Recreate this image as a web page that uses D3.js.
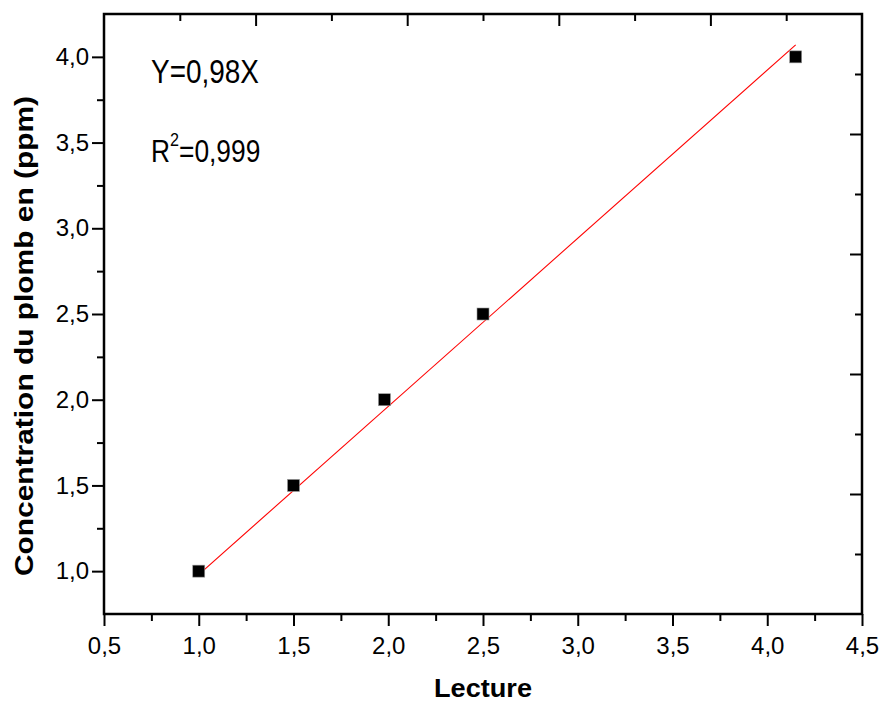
<!DOCTYPE html>
<html>
<head>
<meta charset="utf-8">
<script src="https://cdn.jsdelivr.net/npm/d3@7"></script>
<style>
  html, body { margin: 0; padding: 0; background: #fff; }
  svg { display: block; }
  text { font-family: "Liberation Sans", Arial, Helvetica, sans-serif; fill: #000; }
</style>
</head>
<body>
<svg id="chart" width="881" height="704"></svg>
<script>
// ---- data ----
const lectureX = [1.0, 1.5, 1.98, 2.5, 4.15];
const concentrationY = [1.0, 1.5, 2.0, 2.5, 4.0];
const fitX = [1.0, 4.15];
const fitY = [0.98, 4.07];
const xMajorTicks = [0.5, 1.0, 1.5, 2.0, 2.5, 3.0, 3.5, 4.0, 4.5];
const xMinorTicks = [0.75, 1.25, 1.75, 2.25, 2.75, 3.25, 3.75, 4.25];
const yMajorTicks = [1.0, 1.5, 2.0, 2.5, 3.0, 3.5, 4.0];
const yMinorTicks = [1.25, 1.75, 2.25, 2.75, 3.25, 3.75];
const oppositeMajor = [2, 4, 6, 8];
const oppositeMinor = [1, 3, 5, 7, 9];
const xTitle = "Lecture";
const yTitle = "Concentration du plomb en (ppm)";
const eqText = "Y=0,98X";
const r2Text = "=0,999";

// ---- layout ----
const L = 104, R = 862, T = 14, B = 614;
const svg = d3.select("#chart");
svg.append("rect").attr("width", 881).attr("height", 704).attr("fill", "#fff");

const x = d3.scaleLinear().domain([0.5, 4.5]).range([L, R]);
const y = d3.scaleLinear().domain([0.75, 4.25]).range([B, T]);
const xOpp = d3.scaleLinear().domain([0, 10]).range([L, R]);
const yOpp = d3.scaleLinear().domain([0, 10]).range([B, T]);
const fmt = v => d3.format(".1f")(v).replace(".", ",");

function styleAxis(g) {
  g.select(".domain").remove();
  g.selectAll(".tick line").attr("stroke", "#000").attr("stroke-width", 2);
  g.selectAll(".tick text").attr("font-size", 24).attr("fill", "#000")
    .style("font-family", '"Liberation Sans", Arial, sans-serif');
}

// bottom
svg.append("g").attr("transform", `translate(0,${B})`)
  .call(d3.axisBottom(x).tickValues(xMajorTicks).tickSize(12).tickPadding(11).tickFormat(fmt))
  .call(styleAxis);
svg.append("g").attr("transform", `translate(0,${B})`)
  .call(d3.axisBottom(x).tickValues(xMinorTicks).tickSize(7).tickFormat(""))
  .call(styleAxis);
// left
svg.append("g").attr("transform", `translate(${L},0)`)
  .call(d3.axisLeft(y).tickValues(yMajorTicks).tickSize(12).tickPadding(3).tickFormat(fmt))
  .call(styleAxis);
svg.append("g").attr("transform", `translate(${L},0)`)
  .call(d3.axisLeft(y).tickValues(yMinorTicks).tickSize(7).tickFormat(""))
  .call(styleAxis);
// top (inward)
svg.append("g").attr("transform", `translate(0,${T})`)
  .call(d3.axisTop(xOpp).tickValues(oppositeMajor).tickSize(-12).tickFormat(""))
  .call(styleAxis);
svg.append("g").attr("transform", `translate(0,${T})`)
  .call(d3.axisTop(xOpp).tickValues(oppositeMinor).tickSize(-7).tickFormat(""))
  .call(styleAxis);
// right (inward)
svg.append("g").attr("transform", `translate(${R},0)`)
  .call(d3.axisRight(yOpp).tickValues(oppositeMajor).tickSize(-12).tickFormat(""))
  .call(styleAxis);
svg.append("g").attr("transform", `translate(${R},0)`)
  .call(d3.axisRight(yOpp).tickValues(oppositeMinor).tickSize(-7).tickFormat(""))
  .call(styleAxis);

// frame
svg.append("rect").attr("x", L).attr("y", T).attr("width", R - L).attr("height", B - T)
  .attr("fill", "none").attr("stroke", "#000").attr("stroke-width", 2.5);

// fit line
const fitPts = fitX.map((v, i) => [v, fitY[i]]);
svg.append("path").datum(fitPts)
  .attr("d", d3.line().x(d => x(d[0])).y(d => y(d[1])))
  .attr("fill", "none").attr("stroke", "#ff0000").attr("stroke-width", 1.1);

// markers
const ms = 12;
svg.append("g").selectAll("rect").data(lectureX.map((v, i) => [v, concentrationY[i]]))
  .join("rect")
  .attr("x", d => x(d[0]) - ms / 2).attr("y", d => y(d[1]) - ms / 2)
  .attr("width", ms).attr("height", ms)
  .attr("fill", "#000").attr("stroke", "#999").attr("stroke-width", 0.6);

// annotations
svg.append("text").attr("x", 151).attr("y", 83).attr("font-size", 33)
  .attr("textLength", 108).attr("lengthAdjust", "spacingAndGlyphs").text(eqText);
const r2 = svg.append("text").attr("transform", "translate(151,162) scale(0.85,1)")
  .attr("font-size", 31);
r2.append("tspan").text("R");
r2.append("tspan").attr("font-size", 19).attr("dy", -16).text("2");
r2.append("tspan").attr("dy", 16).text(r2Text);

// axis titles
svg.append("text").attr("x", 483).attr("y", 697).attr("text-anchor", "middle")
  .attr("font-size", 26).attr("font-weight", "bold")
  .attr("textLength", 98).attr("lengthAdjust", "spacingAndGlyphs").text(xTitle);
svg.append("text").attr("transform", "translate(33,336) rotate(-90)")
  .attr("text-anchor", "middle").attr("font-size", 26).attr("font-weight", "bold")
  .attr("textLength", 480).attr("lengthAdjust", "spacingAndGlyphs").text(yTitle);
</script>
</body>
</html>
